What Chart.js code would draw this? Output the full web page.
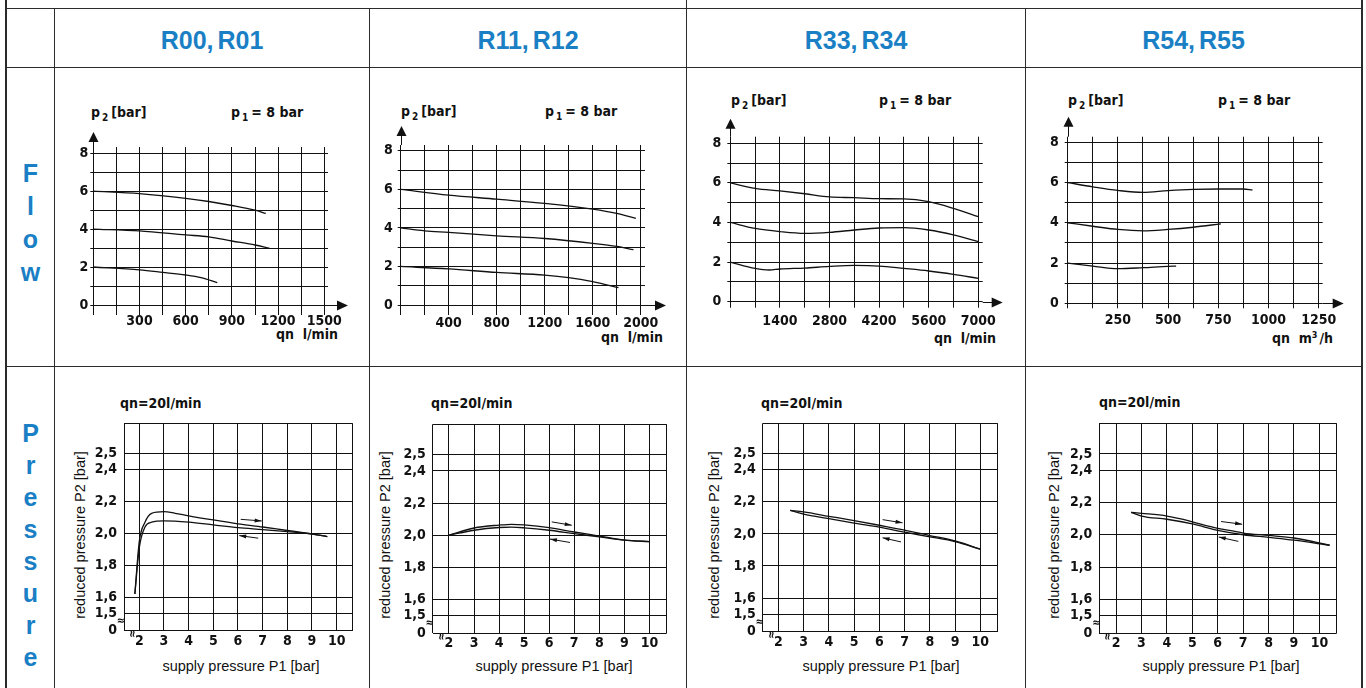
<!DOCTYPE html>
<html>
<head>
<meta charset="utf-8">
<script src="https://cdn.jsdelivr.net/npm/chart.js@4.4.1/dist/chart.umd.min.js"></script>
<style>
html, body { margin: 0; padding: 0; background: #fff; }
body { width: 1366px; height: 688px; position: relative; overflow: hidden; }
.ln { position: absolute; background: #2b2b2b; }
.hdr { position: absolute; top: 8px; height: 59px; text-align: center; color: #1a7fc4;
       font: bold 25px 'Liberation Sans', Arial, sans-serif; line-height: 64px; word-spacing: -3px; }
.side { position: absolute; left: 7px; width: 47px; text-align: center; color: #1a7fc4;
        font: bold 25px 'Liberation Sans', Arial, sans-serif; }
.side span { display: block; }
canvas { position: absolute; }
.t { position: absolute; white-space: nowrap; color: #111;
     font: bold 14px 'Liberation Sans Narrow', 'DejaVu Sans Condensed', sans-serif; line-height: 16px; }
.t sub { font-size: 10px; vertical-align: -4px; margin: 0 3px 0 2px; line-height: 0; }
.t sup { font-size: 9px; vertical-align: 5px; margin-right: 2px; line-height: 0; }
.ax { position: absolute; white-space: nowrap; color: #111; font: 14.5px 'Liberation Sans', Arial, sans-serif; line-height: 16px; }
.rot { transform: translate(-50%, -50%) rotate(-90deg); }
</style>
</head>
<body>
<!-- table lines -->
<div class="ln" style="left:5px;top:0;width:2px;height:688px"></div>
<div class="ln" style="left:1361px;top:0;width:2px;height:688px"></div>
<div class="ln" style="left:6px;top:8px;width:1356px;height:1px"></div>
<div class="ln" style="left:6px;top:67px;width:1356px;height:1px"></div>
<div class="ln" style="left:6px;top:366px;width:1356px;height:1px"></div>
<div class="ln" style="left:54px;top:8px;width:1px;height:680px"></div>
<div class="ln" style="left:369px;top:8px;width:1px;height:680px"></div>
<div class="ln" style="left:686px;top:0;width:1px;height:688px"></div>
<div class="ln" style="left:1025px;top:8px;width:1px;height:680px"></div>

<div class="hdr" style="left:55px;width:314px">R00, R01</div>
<div class="hdr" style="left:370px;width:316px">R11, R12</div>
<div class="hdr" style="left:687px;width:338px">R33, R34</div>
<div class="hdr" style="left:1026px;width:335px">R54, R55</div>

<div class="side" style="top:157px;line-height:33px"><span>F</span><span>l</span><span>o</span><span>w</span></div>
<div class="side" style="top:417px;line-height:32px"><span>P</span><span>r</span><span>e</span><span>s</span><span>s</span><span>u</span><span>r</span><span>e</span></div>

<!-- flow annotations -->
<div class="t" style="left:91px;top:104px">p<sub>2</sub>[bar]</div>
<div class="t" style="left:231px;top:104px">p<sub>1</sub>= 8 bar</div>
<div class="t" style="right:1028px;top:326px">qn&nbsp; l/min</div>
<div class="t" style="left:401px;top:103px">p<sub>2</sub>[bar]</div>
<div class="t" style="left:545px;top:103px">p<sub>1</sub>= 8 bar</div>
<div class="t" style="right:703px;top:329px">qn&nbsp; l/min</div>
<div class="t" style="left:731px;top:92px">p<sub>2</sub>[bar]</div>
<div class="t" style="left:879px;top:92px">p<sub>1</sub>= 8 bar</div>
<div class="t" style="right:370px;top:330px">qn&nbsp; l/min</div>
<div class="t" style="left:1068px;top:92px">p<sub>2</sub>[bar]</div>
<div class="t" style="left:1218px;top:92px">p<sub>1</sub>= 8 bar</div>
<div class="t" style="right:33px;top:330px">qn&nbsp; m<sup>3</sup>/h</div>

<!-- pressure annotations -->
<div class="t" style="left:120px;top:395px">qn=20l/min</div>
<div class="t" style="left:431px;top:395px">qn=20l/min</div>
<div class="t" style="left:761px;top:395px">qn=20l/min</div>
<div class="t" style="left:1099px;top:394px">qn=20l/min</div>
<div class="ax rot" style="left:80px;top:535px">reduced pressure P2 [bar]</div>
<div class="ax rot" style="left:385px;top:535px">reduced pressure P2 [bar]</div>
<div class="ax rot" style="left:714px;top:535px">reduced pressure P2 [bar]</div>
<div class="ax rot" style="left:1054px;top:535px">reduced pressure P2 [bar]</div>
<div class="ax" style="left:241px;top:658px;transform:translateX(-50%)">supply pressure P1 [bar]</div>
<div class="ax" style="left:554px;top:658px;transform:translateX(-50%)">supply pressure P1 [bar]</div>
<div class="ax" style="left:881px;top:658px;transform:translateX(-50%)">supply pressure P1 [bar]</div>
<div class="ax" style="left:1221px;top:658px;transform:translateX(-50%)">supply pressure P1 [bar]</div>

<canvas id="f1"></canvas><canvas id="f2"></canvas><canvas id="f3"></canvas><canvas id="f4"></canvas>
<canvas id="p1"></canvas><canvas id="p2"></canvas><canvas id="p3"></canvas><canvas id="p4"></canvas>

<script>
// ---- flow curves: [qn, p2] for inlet pressure 8 bar ----
const r00Six  = [[0, 6], [300, 5.87], [600, 5.62], [750, 5.45], [900, 5.24], [1050, 4.99], [1120, 4.82]];
const r00Four = [[0, 4], [300, 3.9], [600, 3.69], [750, 3.59], [900, 3.37], [1050, 3.16], [1143, 2.99]];
const r00Two  = [[0, 2], [300, 1.85], [450, 1.72], [600, 1.58], [700, 1.44], [805, 1.18]];

const r11Six  = [[0, 6], [400, 5.7], [800, 5.49], [1200, 5.27], [1600, 4.97], [1800, 4.75], [1960, 4.49]];
const r11Four = [[0, 4], [200, 3.85], [400, 3.77], [800, 3.59], [1200, 3.45], [1600, 3.2], [1800, 3.04], [1940, 2.87]];
const r11Two  = [[0, 2], [400, 1.87], [800, 1.69], [1200, 1.55], [1400, 1.42], [1600, 1.21], [1815, 0.9]];

const r33Six  = [[0, 6], [700, 5.72], [1400, 5.59], [2100, 5.45], [2800, 5.29], [3500, 5.25], [4200, 5.2], [4900, 5.19], [5600, 5.05], [6300, 4.71], [7000, 4.29]];
const r33Four = [[0, 4], [700, 3.7], [1400, 3.54], [2100, 3.45], [2800, 3.5], [3500, 3.62], [4200, 3.72], [4900, 3.74], [5600, 3.62], [6300, 3.37], [7000, 3.03]];
const r33Two  = [[0, 2], [700, 1.68], [1100, 1.6], [1400, 1.65], [2100, 1.7], [2800, 1.78], [3500, 1.83], [4200, 1.8], [4900, 1.68], [5600, 1.55], [6300, 1.38], [7000, 1.18]];

const r54Six  = [[0, 6], [125, 5.79], [250, 5.61], [375, 5.51], [500, 5.6], [625, 5.66], [750, 5.68], [875, 5.68], [920, 5.63]];
const r54Four = [[0, 4], [125, 3.83], [250, 3.67], [375, 3.6], [500, 3.67], [625, 3.78], [763, 3.95]];
const r54Two  = [[0, 2], [125, 1.85], [250, 1.72], [375, 1.77], [500, 1.84], [540, 1.85]];

// ---- pressure curves: [p1, p2] at qn = 20 l/min, rising and falling p1 ----
const r00Up   = [[1.82, 1.62], [2.0, 1.95], [2.23, 2.07], [2.5, 2.126], [3, 2.136], [3.45, 2.126], [4, 2.11], [5, 2.084], [6, 2.06], [7, 2.04], [8, 2.018], [9, 1.997], [9.62, 1.98]];
const r00Down = [[1.82, 1.62], [2.0, 1.91], [2.23, 2.04], [2.5, 2.07], [3, 2.078], [4, 2.07], [5, 2.053], [6, 2.036], [7, 2.024], [8, 2.011], [9, 1.996], [9.62, 1.98]];
const r11Up   = [[2, 2.0], [3, 2.045], [4, 2.063], [4.5, 2.068], [5, 2.064], [6, 2.047], [7, 2.02], [8, 1.995], [9, 1.97], [10, 1.96]];
const r11Down = [[2, 2.0], [3, 2.031], [4, 2.048], [4.5, 2.05], [5, 2.046], [6, 2.031], [7, 2.01], [8, 1.99], [9, 1.969], [10, 1.96]];
const r33Up   = [[2.47, 2.147], [3, 2.137], [4, 2.11], [5, 2.083], [6, 2.054], [7, 2.024], [8, 1.99], [9, 1.956], [10, 1.905]];
const r33Down = [[2.47, 2.147], [3, 2.124], [4, 2.095], [5, 2.067], [6, 2.042], [7, 2.011], [8, 1.982], [9, 1.952], [10, 1.905]];
const r54Up   = [[2.59, 2.139], [3, 2.133], [4, 2.116], [4.5, 2.1], [5, 2.08], [6, 2.04], [6.72, 2.02], [7, 2.01], [8, 1.996], [9, 1.98], [10.4, 1.935]];
const r54Down = [[2.59, 2.139], [3, 2.116], [4, 2.096], [5, 2.067], [6, 2.027], [7, 2.0], [8, 1.984], [9, 1.967], [10.4, 1.935]];

// direction arrows [fromP1, fromP2, toP1, toP2]
const r00Arrows = [[6.11, 2.088, 6.96, 2.078], [6.82, 1.97, 6.05, 1.986]];
const r11Arrows = [[6.1, 2.083, 6.9, 2.062], [6.83, 1.955, 6.03, 1.976]];
const r33Arrows = [[6.13, 2.089, 6.92, 2.069], [6.86, 1.95, 6.13, 1.976]];
const r54Arrows = [[6.13, 2.082, 6.96, 2.065], [6.81, 1.959, 6.04, 1.986]];

// ---- ticks ----
const flowYTicks = [0, 1, 2, 3, 4, 5, 6, 7, 8];
const flowYLabels = [0, 2, 4, 6, 8];
const r00QnTicks = [0, 150, 300, 450, 600, 750, 900, 1050, 1200, 1350, 1500];
const r00QnLabels = [300, 600, 900, 1200, 1500];
const r11QnTicks = [0, 200, 400, 600, 800, 1000, 1200, 1400, 1600, 1800, 2000];
const r11QnLabels = [400, 800, 1200, 1600, 2000];
const r33QnTicks = [0, 700, 1400, 2100, 2800, 3500, 4200, 4900, 5600, 6300, 7000];
const r33QnLabels = [1400, 2800, 4200, 5600, 7000];
const r54QnTicks = [0, 125, 250, 375, 500, 625, 750, 875, 1000, 1125, 1250];
const r54QnLabels = [250, 500, 750, 1000, 1250];

const pressYTicks = [1.5, 1.6, 1.8, 2.0, 2.2, 2.4, 2.5];
const pressYLabels = ['1,5', '1,6', '1,8', '2,0', '2,2', '2,4', '2,5'];
const pressXTicks = [2, 3, 4, 5, 6, 7, 8, 9, 10];
const pressYMin = 1.39, pressYMax = 2.69;   // broken axis: bottom edge stands for 0

const INK = '#111';
const NARROW = "'Liberation Sans Narrow', 'DejaVu Sans Condensed', sans-serif";

function arrowHead(ctx, x1, y1, x2, y2, len, half) {
    const a = Math.atan2(y2 - y1, x2 - x1);
    ctx.beginPath();
    ctx.moveTo(x2, y2);
    ctx.lineTo(x2 - len * Math.cos(a) + half * Math.sin(a), y2 - len * Math.sin(a) - half * Math.cos(a));
    ctx.lineTo(x2 - len * Math.cos(a) - half * Math.sin(a), y2 - len * Math.sin(a) + half * Math.cos(a));
    ctx.closePath();
    ctx.fill();
}

const decor = {
    id: 'decor',
    afterDraw(chart, args, o) {
        const { ctx, chartArea: a, scales: { x, y } } = chart;
        ctx.save();
        ctx.strokeStyle = INK;
        ctx.fillStyle = INK;
        ctx.lineWidth = 1;
        if (o.kind === 'flow') {
            const x0 = Math.round(x.getPixelForValue(0)) + 0.5;
            const y0 = Math.round(y.getPixelForValue(0)) + 0.5;
            ctx.beginPath();
            ctx.moveTo(x0, a.top); ctx.lineTo(x0, a.top - o.up + 9);
            ctx.moveTo(a.right, y0); ctx.lineTo(a.right + o.right - 10, y0);
            ctx.stroke();
            arrowHead(ctx, x0, a.top, x0, a.top - o.up, 10, 5);
            arrowHead(ctx, a.right, y0, a.right + o.right, y0, 11, 5);
        } else {
            o.arrows.forEach(([p1, v1, p2, v2]) => {
                const X1 = x.getPixelForValue(p1), Y1 = y.getPixelForValue(v1);
                const X2 = x.getPixelForValue(p2), Y2 = y.getPixelForValue(v2);
                ctx.beginPath(); ctx.moveTo(X1, Y1); ctx.lineTo(X2, Y2); ctx.stroke();
                arrowHead(ctx, X1, Y1, X2, Y2, 7, 2);
            });
            // axis break marks
            ctx.font = 'bold 11px ' + NARROW;
            ctx.textAlign = 'center';
            ctx.textBaseline = 'middle';
            ctx.fillText('\u2248', a.left - 3, a.bottom - 10);
            ctx.translate(a.left + 8, a.bottom + 3);
            ctx.rotate(Math.PI / 2);
            ctx.fillText('\u2248', 0, 0);
        }
        ctx.restore();
    }
};

function build(id, cell, area, c) {
    const cv = document.getElementById(id);
    cv.width = cell[2];
    cv.height = cell[3];
    cv.style.left = cell[0] + 'px';
    cv.style.top = cell[1] + 'px';
    const YW = 40, XH = 24;
    const font = { family: NARROW, size: 14, weight: 'bold' };
    new Chart(cv, {
        type: 'line',
        data: {
            datasets: c.series.map(s => ({
                data: s.map(([qx, qy]) => ({ x: qx, y: qy })),
                borderColor: INK, borderWidth: 1.3, pointRadius: 0, fill: false,
                cubicInterpolationMode: 'monotone'
            }))
        },
        options: {
            responsive: false,
            animation: false,
            events: [],
            layout: {
                padding: {
                    left: area[0] - cell[0] - YW,
                    top: area[1] - cell[1],
                    right: cell[0] + cell[2] - area[2],
                    bottom: cell[1] + cell[3] - area[3] - XH
                }
            },
            plugins: { legend: { display: false }, tooltip: { enabled: false }, decor: c.decor },
            scales: {
                x: {
                    type: 'linear', min: c.xMin, max: c.xMax,
                    afterBuildTicks: s => { s.ticks = c.xTicks.map(v => ({ value: v })); },
                    afterFit: s => { s.height = XH; },
                    border: { display: false },
                    grid: { color: INK, lineWidth: 1, drawTicks: c.xTl > 0, tickLength: c.xTl, tickColor: INK },
                    ticks: { autoSkip: false, maxRotation: 0, padding: c.xPad, color: INK, font, callback: c.xLabel }
                },
                y: {
                    type: 'linear', min: c.yMin, max: c.yMax,
                    afterBuildTicks: s => { s.ticks = c.yTicks.map(v => ({ value: v })); },
                    afterFit: s => { s.width = YW; },
                    border: { display: false },
                    grid: { color: INK, lineWidth: 1, drawTicks: c.yTl > 0, tickLength: c.yTl, tickColor: INK },
                    ticks: { autoSkip: false, padding: c.yPad, color: INK, font, callback: c.yLabel }
                }
            }
        },
        plugins: [decor]
    });
}

function flow(id, cell, area, series, qnTicks, qnLabels, xMax, yMax, xTl, xPad, yPad, up, right) {
    build(id, cell, area, {
        series, xMin: 0, xMax, yMin: 0, yMax,
        xTicks: qnTicks, yTicks: flowYTicks,
        xTl, yTl: 3, xPad, yPad,
        xLabel: v => qnLabels.includes(v) ? String(v) : '',
        yLabel: v => flowYLabels.includes(v) ? String(v) : '',
        decor: { kind: 'flow', up, right }
    });
}

function press(id, cell, area, series, arrows, xMin, xMax) {
    build(id, cell, area, {
        series, xMin, xMax, yMin: pressYMin, yMax: pressYMax,
        xTicks: [xMin, ...pressXTicks, xMax],
        yTicks: [pressYMin, ...pressYTicks, pressYMax],
        xTl: 0, yTl: 0, xPad: 2, yPad: 7,
        xLabel: v => pressXTicks.includes(v) ? String(v) : '',
        yLabel: v => v === pressYMin ? '0' : (pressYTicks.indexOf(v) >= 0 ? pressYLabels[pressYTicks.indexOf(v)] : ''),
        decor: { kind: 'press', arrows }
    });
}

flow('f1', [55, 68, 314, 298], [93.3, 147, 328, 305], [r00Six, r00Four, r00Two], r00QnTicks, r00QnLabels, 1524, 8.32, 10, -2, 2, 15, 20);
flow('f2', [370, 68, 316, 298], [400.7, 145, 645, 305], [r11Six, r11Four, r11Two], r11QnTicks, r11QnLabels, 2036, 8.3, 10, 0, 5, 19, 21);
flow('f3', [687, 68, 338, 298], [730.3, 136.7, 982.7, 301.7], [r33Six, r33Four, r33Two], r33QnTicks, r33QnLabels, 7124, 8.33, 6, 5, 6, 18, 20);
flow('f4', [1026, 68, 335, 298], [1067.7, 136.7, 1322.7, 303.3], [r54Six, r54Four, r54Two], r54QnTicks, r54QnLabels, 1270, 8.28, 5, 4, 6, 20, 21);

press('p1', [55, 367, 314, 321], [124, 423.3, 352.7, 630.7], [r00Up, r00Down], r00Arrows, 1.38, 10.65);
press('p2', [370, 367, 316, 321], [432.7, 424.3, 666.7, 633.3], [r11Up, r11Down], r11Arrows, 1.35, 10.69);
press('p3', [687, 367, 338, 321], [762.7, 423.3, 997.7, 631.7], [r33Up, r33Down], r33Arrows, 1.38, 10.69);
press('p4', [1026, 367, 335, 321], [1099.3, 423.3, 1336.7, 633.3], [r54Up, r54Down], r54Arrows, 1.34, 10.68);
</script>
</body>
</html>
